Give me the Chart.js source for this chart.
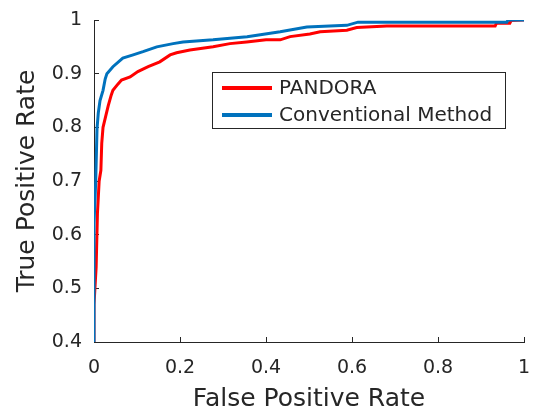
<!DOCTYPE html>
<html>
<head>
<meta charset="utf-8">
<title>ROC</title>
<script src="https://cdn.jsdelivr.net/npm/chart.js@4"></script>
<style>
  html, body { margin: 0; padding: 0; background: #fff; }
  canvas { display: block; }
</style>
</head>
<body>
<canvas id="rocChart" width="537" height="412"></canvas>
<script>
// values
const xTicks = [0, 0.2, 0.4, 0.6, 0.8, 1];
const yTicks = [0.4, 0.5, 0.6, 0.7, 0.8, 0.9, 1];

const seriesNames = ['PANDORA', 'Conventional Method'];

const pandoraFpr = [0, 0, 0.005, 0.008, 0.012, 0.016, 0.018, 0.021, 0.027, 0.033, 0.04, 0.044,
  0.055, 0.064, 0.084, 0.102, 0.126, 0.153, 0.177, 0.192, 0.223, 0.277, 0.316, 0.355,
  0.40, 0.433, 0.456, 0.502, 0.526, 0.588, 0.611, 0.681, 0.933, 0.936, 0.967, 0.97, 0.998, 1];
const pandoraTpr = [0, 0.47, 0.54, 0.64, 0.70, 0.72, 0.77, 0.80, 0.82, 0.84, 0.86, 0.869,
  0.88, 0.888, 0.894, 0.904, 0.913, 0.922, 0.935, 0.939, 0.944, 0.95, 0.956, 0.959,
  0.963, 0.963, 0.969, 0.974, 0.978, 0.981, 0.986, 0.989, 0.989, 0.994, 0.994, 0.999, 1, 1];

const convFpr = [0, 0, 0.004, 0.007, 0.01, 0.014, 0.021, 0.026, 0.03, 0.044, 0.067, 0.091,
  0.114, 0.146, 0.184, 0.207, 0.277, 0.356, 0.433, 0.495, 0.588, 0.614, 0.96, 0.963, 1];
const convTpr = [0, 0.62, 0.70, 0.797, 0.827, 0.85, 0.869, 0.89, 0.90, 0.913, 0.929, 0.935,
  0.941, 0.95, 0.956, 0.959, 0.963, 0.969, 0.978, 0.987, 0.99, 0.996, 0.996, 1, 1];

const AXIS_COLOR = '#262626';
const FONT = "'DejaVu Sans', sans-serif";

function toPoints(xs, ys) {
  return xs.map((x, i) => ({ x: x, y: ys[i] }));
}

// MATLAB style boxed legend inside the plot
const boxLegend = {
  id: 'boxLegend',
  afterDraw(chart) {
    const ctx = chart.ctx;
    const left = 212, top = 72, width = 293, height = 56;
    ctx.save();
    ctx.fillStyle = '#fff';
    ctx.fillRect(left, top, width, height);
    ctx.strokeStyle = AXIS_COLOR;
    ctx.lineWidth = 1;
    ctx.strokeRect(left + 0.5, top + 0.5, width, height);
    ctx.font = '20px ' + FONT;
    ctx.textBaseline = 'middle';
    ctx.textAlign = 'left';
    chart.data.datasets.forEach((ds, i) => {
      const y = top + 16 + i * 27;
      ctx.strokeStyle = ds.borderColor;
      ctx.lineWidth = 4;
      ctx.beginPath();
      ctx.moveTo(222, y);
      ctx.lineTo(272, y);
      ctx.stroke();
      ctx.fillStyle = AXIS_COLOR;
      ctx.fillText(ds.label, 279, y + 1);
    });
    ctx.restore();
  }
};

function axisOptions(ticks, min, max, title, isX) {
  return {
    type: 'linear',
    position: isX ? 'bottom' : 'left',
    min: min,
    max: max,
    afterBuildTicks: (scale) => { scale.ticks = ticks.map(v => ({ value: v })); },
    afterFit: (scale) => {
      if (isX) scale.height = 70; else scale.width = 94;
      // keep the plot box fixed, labels may overhang
      scale.paddingLeft = 0;
      scale.paddingRight = 0;
      scale.paddingTop = 0;
      scale.paddingBottom = 0;
    },
    ticks: {
      color: AXIS_COLOR,
      font: { family: FONT, size: 19 },
      padding: isX ? 20 : 17,
      maxRotation: 0,
      autoSkip: false,
      callback: (v) => String(v)
    },
    grid: {
      display: true,
      drawOnChartArea: false,
      drawTicks: true,
      tickLength: -5,
      color: AXIS_COLOR
    },
    border: { display: true, color: AXIS_COLOR, width: 1 },
    title: {
      display: true,
      text: title,
      color: AXIS_COLOR,
      font: { family: FONT, size: 25, lineHeight: 1 },
      padding: isX ? { top: 0, bottom: 0 } : { top: 15, bottom: 0 }
    }
  };
}

const ctx = document.getElementById('rocChart').getContext('2d');
const rocChart = new Chart(ctx, {
  type: 'line',
  data: {
    datasets: [
      {
        label: seriesNames[0],
        data: toPoints(pandoraFpr, pandoraTpr),
        borderColor: '#ff0000',
        borderWidth: 3,
        pointRadius: 0,
        fill: false,
        tension: 0,
        order: 1
      },
      {
        label: seriesNames[1],
        data: toPoints(convFpr, convTpr),
        borderColor: '#0072bd',
        borderWidth: 3,
        pointRadius: 0,
        fill: false,
        tension: 0,
        order: 0
      }
    ]
  },
  options: {
    responsive: false,
    animation: false,
    layout: { padding: { left: 0, right: 13, top: 20, bottom: 0 } },
    plugins: {
      legend: { display: false },
      tooltip: { enabled: false }
    },
    scales: {
      x: axisOptions(xTicks, 0, 1, 'False Positive Rate', true),
      y: axisOptions(yTicks, 0.4, 1, 'True Positive Rate', false)
    }
  },
  plugins: [boxLegend]
});
</script>
</body>
</html>
